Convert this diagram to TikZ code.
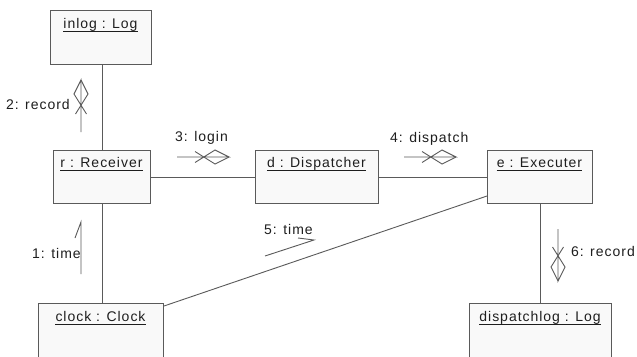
\documentclass[tikz,border=0pt]{standalone}
\usepackage{fontspec}
\setmainfont{Liberation Sans}[LetterSpace=7]
\definecolor{edge}{HTML}{5A5A5A}
\definecolor{boxfill}{HTML}{F9F9F9}
\definecolor{ink}{HTML}{1E1E1E}
\tikzset{
  obj/.style={draw=edge, fill=boxfill, line width=1pt, inner sep=0pt,
    anchor=north west},
  ttl/.style={text=ink, font=\fontsize{14}{16}\selectfont, inner sep=0pt, anchor=base},
  lbl/.style={text=ink, font=\fontsize{14}{16}\selectfont, inner sep=0pt},
  link/.style={draw=edge, line width=0.9pt},
  msgline/.style={draw=edge, line width=0.9pt},
  % message arrow with crossed open head, tip at the origin, pointing along +x
  kite/.pic={
    \draw[msgline] (-52,0) -- (0,0) -- (-14,-7) -- (-34,5.5);
    \draw[msgline] (0,0) -- (-14,7) -- (-34,-5.5);
  }
}
% object title, underlined
\newcommand\objtitle[3]{%
  \node[ttl] (#1) at (#2) {#3};
  \draw[ink, line width=0.7pt] ([yshift=-2.5pt]#1.base west) -- ([yshift=-2.5pt]#1.base east);
}
\begin{document}
\begin{tikzpicture}[x=1pt, y=-1pt]
\useasboundingbox (0,0) rectangle (637,356);
\clip (0,0) rectangle (637,356);
\fill[white] (0,0) rectangle (637,356);

% objects
\node[obj, minimum width=101pt, minimum height=54pt] (inlog) at (50,10) {};
\node[obj, minimum width=97pt,  minimum height=53pt] (r)     at (53,150) {};
\node[obj, minimum width=123pt, minimum height=53pt] (d)     at (255,150) {};
\node[obj, minimum width=105pt, minimum height=53pt] (e)     at (487,150) {};
\node[obj, minimum width=125pt, minimum height=80pt] (clock) at (38,303) {};
\node[obj, minimum width=142pt, minimum height=80pt] (dlog)  at (469,303) {};

\objtitle{inlogT}{100.5,28.5}{inlog : Log}
\objtitle{rT}{101.5,167.5}{r : Receiver}
\objtitle{dT}{316.5,167.5}{d : Dispatcher}
\objtitle{eT}{539.5,167.5}{e : Executer}
\objtitle{clockT}{100.5,321.5}{clock : Clock}
\objtitle{dlogT}{540,321.5}{dispatchlog : Log}

% links
\draw[link] (inlog.south -| r.north) -- (r.north);
\draw[link] (r.east) -- (d.west);
\draw[link] (d.east) -- (e.west);
\draw[link] (r.south) -- (r.south |- clock.north);
\draw[link] (e.south) -- (e.south |- dlog.north);
\draw[link] ([yshift=-3pt]clock.north east) -- ([yshift=8pt]e.south west);

% messages
\coordinate (m2) at (81,80);
\coordinate (m3) at (229,157);
\coordinate (m4) at (456,157);
\coordinate (m6) at (558,281);
\pic[rotate=90] at (m2) {kite};
\pic at (m3) {kite};
\pic at (m4) {kite};
\pic[rotate=-90] at (m6) {kite};

\coordinate (m1) at (81,222);
\draw[msgline] (81,274) -- (m1) -- (75,238);
\coordinate (m5) at (314,240);
\draw[msgline] (265,256) -- (m5) -- (298,238);

% message labels
\node[lbl, anchor=base east] at (70,109) {2: record};
\node[lbl, anchor=base west] at (175,141) {3: login};
\node[lbl, anchor=base west] at (390,142) {4: dispatch};
\node[lbl, anchor=base east] at (635,256) {6: record};
\node[lbl, anchor=base west] at (32,258) {1: time};
\node[lbl, anchor=base west] at (264,234) {5: time};
\end{tikzpicture}
\end{document}
